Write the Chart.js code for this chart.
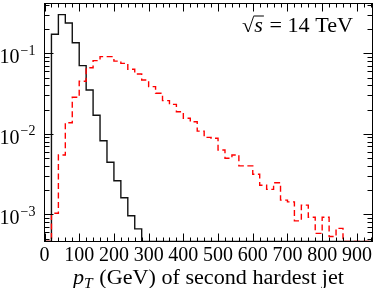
<!DOCTYPE html>
<html>
<head>
<meta charset="utf-8">
<script src="https://cdn.jsdelivr.net/npm/chart.js@4/dist/chart.umd.min.js"></script>
<style>
  html, body { margin: 0; padding: 0; background: #fff; }
  #c { display: block; }
</style>
</head>
<body>
<canvas id="c" width="374" height="288"></canvas>
<script>
// histogram bins are 20 GeV wide, first bin starts at 0 GeV
const binWidth = 20;

// black solid histogram, bins 0-20, 20-40, ... (0 = empty bin)
const blackValues = [0, 0.172, 0.302, 0.238, 0.135, 0.0702, 0.035, 0.017, 0.0082,
  0.00443, 0.00261, 0.00161, 0.00096, 0.00066, 0];

// red dashed histogram, same bins
const redValues = [0, 0.00103, 0.00546, 0.0137, 0.0284, 0.045, 0.066, 0.081, 0.0908,
  0.0908, 0.08, 0.075, 0.0633, 0.0553, 0.0466, 0.0385, 0.0319, 0.0258, 0.0232,
  0.0188, 0.0156, 0.0141, 0.0108, 0.00904, 0.0088, 0.0063, 0.00497, 0.00546,
  0.0040, 0.0040, 0.00314, 0.0023, 0.00204, 0.00247, 0.0015, 0.00143, 0.00083,
  0.0013, 0.00092, 0.00058, 0.00092, 0.00053, 0.00067, 0];

const xTickLabels = ['0', '100', '200', '300', '400', '500', '600', '700', '800', '900'];
const yTickValues = [1e-3, 1e-2, 1e-1];
const yTickExponents = ['\u22123', '\u22122', '\u22121'];

const xMin = 0, xMax = 945;
const yMin = 4.6e-4, yMax = 0.415;

const serif = '"Liberation Serif", "DejaVu Serif", serif';

// turn bin values into step points (left edge of every bin + closing point)
function toSteps(values) {
  const pts = values.map((v, i) => ({ x: i * binWidth, y: v > 0 ? v : yMin }));
  pts.push({ x: xMax, y: pts[pts.length - 1].y });
  return pts;
}

// draw a run of text pieces squeezed/stretched to a given width
function drawPieces(ctx, pieces, left, base, target) {
  let total = 0;
  pieces.forEach(p => { ctx.font = p.font; p.w = ctx.measureText(p.text).width; total += p.w + (p.gap || 0); });
  ctx.save();
  ctx.translate(left, base);
  ctx.scale(target / total, 1);
  let cx = 0;
  pieces.forEach(p => {
    ctx.font = p.font;
    ctx.fillText(p.text, cx, p.dy || 0);
    if (p.bar) {
      ctx.beginPath();
      ctx.moveTo(cx - 0.5, p.bar);
      ctx.lineTo(cx + p.w + 1, p.bar);
      ctx.stroke();
    }
    cx += p.w + (p.gap || 0);
  });
  ctx.restore();
}

// frame, inward ticks on all sides, tick labels and texts
const framePlugin = {
  id: 'frame',
  afterDraw(chart) {
    const { ctx, chartArea: a, scales: { x, y } } = chart;
    ctx.save();
    ctx.strokeStyle = '#000';
    ctx.lineWidth = 1;
    ctx.strokeRect(a.left, a.top, a.right - a.left, a.bottom - a.top);

    const seg = (x1, y1, x2, y2) => {
      ctx.beginPath(); ctx.moveTo(x1, y1); ctx.lineTo(x2, y2); ctx.stroke();
    };

    // x ticks every 20 GeV, major every 100
    for (let v = 0; v <= xMax; v += 20) {
      const px = Math.round(x.getPixelForValue(v)) + 0.5;
      const len = v % 100 === 0 ? 8 : 4;
      seg(px, a.bottom, px, a.bottom - len);
      seg(px, a.top, px, a.top + len);
    }
    // y ticks at 1..9 x 10^k
    for (let e = -4; e <= 0; e++) {
      for (let m = 1; m < 10; m++) {
        const v = m * Math.pow(10, e);
        if (v < yMin || v > yMax) continue;
        const py = Math.round(y.getPixelForValue(v)) + 0.5;
        const len = m === 1 ? 9 : 5;
        seg(a.left, py, a.left + len, py);
        seg(a.right, py, a.right - len, py);
      }
    }

    ctx.fillStyle = '#000';
    ctx.textBaseline = 'alphabetic';

    // x tick labels
    ctx.font = '20px ' + serif;
    ctx.textAlign = 'center';
    xTickLabels.forEach(lbl => {
      ctx.fillText(lbl, x.getPixelForValue(Number(lbl)), 261);
    });

    // y tick labels 10^k
    yTickValues.forEach((v, i) => {
      const py = y.getPixelForValue(v);
      ctx.font = '20px ' + serif;
      ctx.textAlign = 'right';
      ctx.fillText('10', 19.5, py + 10);
      ctx.font = '14px ' + serif;
      ctx.textAlign = 'left';
      ctx.fillText(yTickExponents[i], 20.5, py + 1.5);
    });

    ctx.textAlign = 'left';
    // axis title: p_T (GeV) of second hardest jet
    const cx = (a.left + a.right) / 2;
    drawPieces(ctx, [
      { text: 'p', font: 'italic 20px ' + serif },
      { text: 'T', font: 'italic 14px ' + serif, dy: 3.5, gap: 1 },
      { text: ' (GeV) of second hardest jet', font: '20px ' + serif }
    ], cx - 135.5, 284, 271);

    // sqrt(s) = 14 TeV
    drawPieces(ctx, [
      { text: '\u221A', font: '20px ' + serif },
      { text: 's', font: 'italic 20px ' + serif, bar: -15.5, gap: 1 },
      { text: ' = 14 TeV', font: '20px ' + serif }
    ], 242, 31.5, 111);

    ctx.restore();
  }
};

new Chart(document.getElementById('c'), {
  type: 'line',
  data: {
    datasets: [
      {
        data: toSteps(redValues),
        borderColor: '#ff0000',
        borderWidth: 1.4,
        borderDash: [6, 3.5],
        stepped: 'before',
        pointRadius: 0,
        fill: false
      },
      {
        data: toSteps(blackValues),
        borderColor: '#111',
        borderWidth: 1.4,
        stepped: 'before',
        pointRadius: 0,
        fill: false
      }
    ]
  },
  options: {
    responsive: false,
    animation: false,
    devicePixelRatio: 1,
    layout: { padding: { left: 44.5, right: 1.5, top: 3.5, bottom: 46.5 } },
    plugins: { legend: { display: false }, tooltip: { enabled: false } },
    scales: {
      x: { type: 'linear', min: xMin, max: xMax, display: false },
      y: { type: 'logarithmic', min: yMin, max: yMax, display: false }
    }
  },
  plugins: [framePlugin]
});
</script>
</body>
</html>
